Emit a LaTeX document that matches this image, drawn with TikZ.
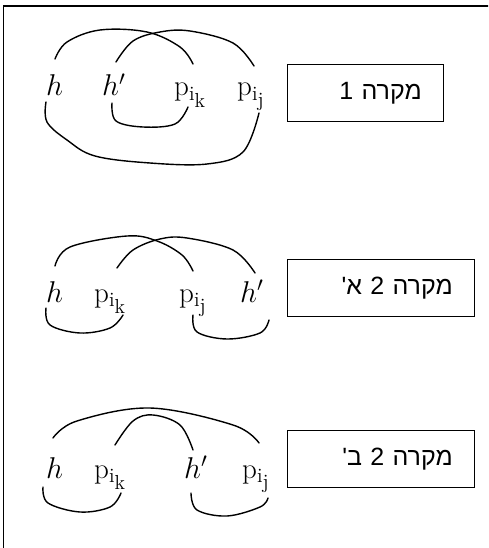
\documentclass[tikz,border=0pt]{standalone}
\usepackage{fontspec}
\newfontfamily\hebfont[Script=Hebrew]{Liberation Sans}
\TeXXeTstate=1
\newcommand{\lblm}[1]{\scalebox{1.45}{$#1$}}
\newcommand{\pik}{\mathrm{p}_{\mathrm{i}_{\scriptstyle\mathrm{k}}}}
\newcommand{\pij}{\mathrm{p}_{\mathrm{i}_{\scriptstyle\mathrm{j}}}}
\begin{document}
\begin{tikzpicture}[x=1pt,y=-1pt,
  lbl/.style={anchor=base west,inner sep=0pt,font=\fontsize{20}{24}\selectfont},
  arc/.style={line width=1.4pt,line cap=round,smooth,tension=0.6},
  casebox/.style={draw,line width=1.4pt,anchor=north west,minimum width=156pt,minimum height=57pt,
     inner xsep=22pt,inner ysep=0pt,align=right,font=\hebfont\fontsize{25}{29}\selectfont},
  ]
\clip (0,0) rectangle (488,548);
\draw[line width=1.5pt] (3.5,556) -- (3.5,6) -- (496,6);
% ---------- case 1
\node[lbl] (h1) at (46,96) {\lblm{h}};
\node[lbl] (hp1) at (102,96) {\lblm{h'}};
\node[lbl] (pk1) at (174,96) {\lblm{\pik}};
\node[lbl] (pj1) at (237,96) {\lblm{\pij}};
\coordinate (a1s) at (55,59); \coordinate (a1e) at (193,64);
\coordinate (b1s) at (116,62); \coordinate (b1e) at (254,66);
\coordinate (c1s) at (112,103); \coordinate (c1e) at (188,107);
\coordinate (d1s) at (46,102); \coordinate (d1e) at (259,113);
\draw[arc] plot coordinates {(a1s) (67,42) (100,30) (147,32) (180,47) (a1e)};
\draw[arc] plot coordinates {(b1s) (133,41) (160,32) (190,31) (233,43) (b1e)};
\draw[arc] plot coordinates {(c1s) (116,121) (143,127) (175,124) (c1e)};
\draw[arc] plot coordinates {(d1s) (47,122) (67,140) (95,156) (150,163) (207,164) (243,152) (d1e)};
\node[casebox,text width=112pt] (box1) at (287,64) {\beginR מקרה 1\endR};
% ---------- case 2a
\node[lbl] (h2) at (46,302) {\lblm{h}};
\node[lbl] (pk2) at (94,302) {\lblm{\pik}};
\node[lbl] (pj2) at (179,302) {\lblm{\pij}};
\node[lbl] (hp2) at (240,302) {\lblm{h'}};
\coordinate (a2s) at (55,266); \coordinate (a2e) at (193,271);
\coordinate (b2s) at (117,268); \coordinate (b2e) at (255,273);
\coordinate (c2s) at (46,308); \coordinate (c2e) at (123,315);
\coordinate (d2s) at (193,315); \coordinate (d2e) at (269,320);
\draw[arc] plot coordinates {(a2s) (70,247) (127,236) (157,241) (182,255) (a2e)};
\draw[arc] plot coordinates {(b2s) (133,250) (160,239) (187,238) (233,250) (b2e)};
\draw[arc] plot coordinates {(c2s) (50,325) (80,333) (110,328) (c2e)};
\draw[arc] plot coordinates {(d2s) (197,332) (227,339) (260,333) (d2e)};
\node[casebox,text width=143pt] (box2) at (287,259) {\beginR מקרה 2 א'\endR};
% ---------- case 2b
\node[lbl] (h3) at (46,478) {\lblm{h}};
\node[lbl] (pk3) at (94,478) {\lblm{\pik}};
\node[lbl] (hp3) at (184,478) {\lblm{h'}};
\node[lbl] (pj3) at (242,478) {\lblm{\pij}};
\coordinate (a3s) at (53,438); \coordinate (a3e) at (259,443);
\coordinate (b3s) at (115,445); \coordinate (b3e) at (193,450);
\coordinate (c3s) at (43,487); \coordinate (c3e) at (121,493);
\coordinate (d3s) at (191,493); \coordinate (d3e) at (268,498);
\draw[arc] plot coordinates {(a3s) (77,421) (150,408) (233,425) (a3e)};
\draw[arc] plot coordinates {(b3s) (133,421) (153,415) (180,425) (b3e)};
\draw[arc] plot coordinates {(c3s) (48,503) (80,512) (110,507) (c3e)};
\draw[arc] plot coordinates {(d3s) (197,510) (227,516) (260,507) (d3e)};
\node[casebox,text width=143pt] (box3) at (287,430) {\beginR מקרה 2 ב'\endR};
\end{tikzpicture}
\end{document}
